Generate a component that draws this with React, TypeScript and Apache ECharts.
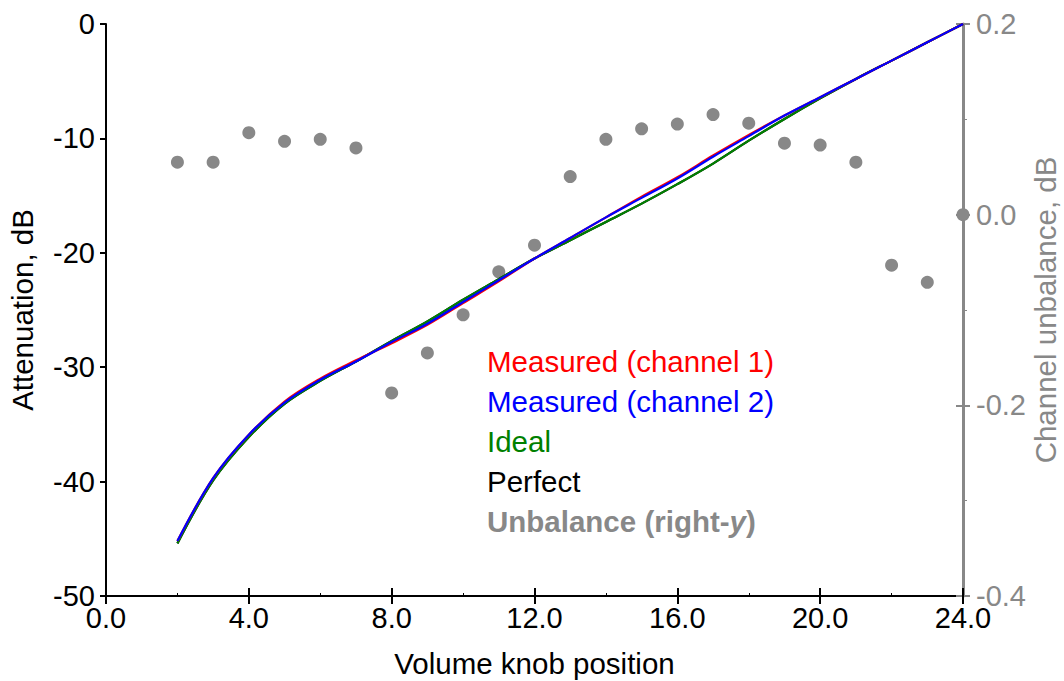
import React, { useEffect, useRef } from "react";
import * as echarts from "echarts";

const knob = [2, 3, 4, 5, 6, 7, 8, 9, 10, 11, 12, 13, 14, 15, 16, 17, 18, 19, 20, 21, 22, 23, 24];
const channel1 = [-45.2, -39.7, -35.9, -33.0, -31.0, -29.4, -27.9, -26.3, -24.4, -22.5, -20.5, -18.7, -16.9, -15.1, -13.4, -11.5, -9.7, -8.0, -6.4, -4.8, -3.2, -1.6, 0];
const channel2 = [-45.2, -39.7, -35.9, -33.1, -31.1, -29.5, -27.8, -26.2, -24.3, -22.4, -20.5, -18.7, -16.9, -15.2, -13.5, -11.6, -9.8, -8.0, -6.4, -4.8, -3.2, -1.6, 0];
const ideal = [-45.4, -39.9, -36.1, -33.2, -31.2, -29.5, -27.7, -26.0, -24.1, -22.3, -20.5, -18.9, -17.3, -15.7, -14.0, -12.2, -10.2, -8.3, -6.5, -4.8, -3.2, -1.6, 0];
const perfect = [-45.4, -39.9, -36.1, -33.2, -31.2, -29.5, -27.7, -26.0, -24.1, -22.3, -20.5, -18.9, -17.3, -15.7, -14.0, -12.2, -10.2, -8.3, -6.5, -4.8, -3.2, -1.6, 0];
const unbalance = [0.055, 0.055, 0.086, 0.077, 0.079, 0.070, -0.187, -0.145, -0.105, -0.060, -0.032, 0.040, 0.079, 0.090, 0.095, 0.105, 0.096, 0.075, 0.073, 0.055, -0.053, -0.071, 0.0];

const legendItems = [
  { label: "Measured (channel 1)", color: "#ff0000" },
  { label: "Measured (channel 2)", color: "#0000ff" },
  { label: "Ideal", color: "#008000" },
  { label: "Perfect", color: "#000000" },
];

const FONT = "'Liberation Sans', Arial, sans-serif";
const FS = 29.5;
const TFS = 29;
const GREY = "#888888";

const pairs = (ys: number[]) => knob.map((x, i) => [x, ys[i]]);

export default function App() {
  const ref = useRef<HTMLDivElement>(null);
  useEffect(() => {
    if (!ref.current) return;
    const chart = echarts.init(ref.current, undefined, { renderer: "svg" });
    const lineSeries = (name: string, ys: number[], color: string) => ({
      name,
      type: "line",
      xAxisIndex: 0,
      yAxisIndex: 0,
      data: pairs(ys),
      smooth: 0.35,
      showSymbol: false,
      lineStyle: { color, width: 2.2 },
      itemStyle: { color },
    });
    const legendGraphics: any[] = legendItems.map((it, i) => ({
      type: "text",
      left: 487,
      top: 363 + i * 40 - 17,
      style: { text: it.label, fill: it.color, font: `${FS}px ${FONT}` },
    }));
    legendGraphics.push({
      type: "text",
      left: 487,
      top: 363 + 4 * 40 - 17,
      style: {
        text: "{a|Unbalance (right-}{b|y}{a|)}",
        rich: {
          a: { fill: GREY, fontSize: FS, fontWeight: "bold", fontFamily: FONT },
          b: { fill: GREY, fontSize: FS, fontWeight: "bold", fontStyle: "italic", fontFamily: FONT },
        },
      },
    });
    chart.setOption({
      animation: false,
      backgroundColor: "#ffffff",
      grid: { left: 106, right: 101, top: 24, bottom: 85, containLabel: false, outerBoundsMode: "none" },
      xAxis: [
        {
          type: "value",
          min: 0,
          max: 24,
          interval: 4,
          position: "bottom",
          name: "Volume knob position",
          nameLocation: "middle",
          nameGap: 52,
          nameMoveOverlap: false,
          nameTextStyle: { color: "#000", fontSize: FS, fontFamily: FONT },
          axisLine: { show: true, onZero: false, lineStyle: { color: "#000", width: 2 } },
          axisTick: { show: true, inside: false, length: 8, lineStyle: { color: "#000", width: 2 } },
          axisLabel: { color: "#000", fontSize: TFS, fontFamily: FONT, margin: 7, formatter: (v: number) => v.toFixed(1) },
          splitLine: { show: false },
        },
        {
          type: "value",
          min: 0,
          max: 24,
          interval: 4,
          position: "bottom",
          axisLine: { show: false, onZero: false },
          axisTick: { show: true, inside: true, length: 8, lineStyle: { color: "#000", width: 2 } },
          minorTick: { show: true, splitNumber: 2, length: 3, lineStyle: { color: "#000", width: 1 } },
          axisLabel: { show: false },
          splitLine: { show: false },
        },
      ],
      yAxis: [
        {
          type: "value",
          min: -50,
          max: 0,
          interval: 10,
          position: "left",
          name: "Attenuation, dB",
          nameLocation: "middle",
          nameGap: 69,
          nameMoveOverlap: false,
          nameTextStyle: { color: "#000", fontSize: FS, fontFamily: FONT },
          axisLine: { show: true, onZero: false, lineStyle: { color: "#000", width: 2 } },
          axisTick: { show: true, inside: false, length: 6, lineStyle: { color: "#000", width: 2 } },
          axisLabel: { color: "#000", fontSize: TFS, fontFamily: FONT, margin: 11 },
          splitLine: { show: false },
        },
        {
          type: "value",
          min: -0.4,
          max: 0.2,
          interval: 0.2,
          position: "right",
          name: "Channel unbalance, dB",
          nameLocation: "middle",
          nameGap: 67,
          nameMoveOverlap: false,
          nameTextStyle: { color: GREY, fontSize: FS, fontFamily: FONT },
          axisLine: { show: true, onZero: false, lineStyle: { color: GREY, width: 3 } },
          axisTick: { show: true, inside: false, length: 7, lineStyle: { color: GREY, width: 2 } },
          minorTick: { show: true, splitNumber: 2, length: 4, lineStyle: { color: GREY, width: 1 } },
          axisLabel: { color: GREY, fontSize: TFS, fontFamily: FONT, margin: 13, formatter: (v: number) => v.toFixed(1) },
          splitLine: { show: false },
        },
        {
          type: "value",
          min: -0.4,
          max: 0.2,
          interval: 0.2,
          position: "right",
          axisLine: { show: false, onZero: false },
          axisTick: { show: true, inside: true, length: 7, lineStyle: { color: GREY, width: 2 } },
          axisLabel: { show: false },
          splitLine: { show: false },
        },
      ],
      series: [
        {
          name: "Unbalance (right-y)",
          type: "scatter",
          xAxisIndex: 0,
          yAxisIndex: 1,
          data: pairs(unbalance),
          symbol: "circle",
          symbolSize: 13,
          itemStyle: { color: GREY, opacity: 1 },
        },
        lineSeries("Perfect", perfect, "#000000"),
        lineSeries("Ideal", ideal, "#008000"),
        lineSeries("Measured (channel 1)", channel1, "#ff0000"),
        lineSeries("Measured (channel 2)", channel2, "#0000ff"),
      ],
      graphic: legendGraphics,
    });
    return () => chart.dispose();
  }, []);
  return (
    <div
      ref={ref}
      style={{ position: "fixed", left: 0, top: 0, width: 1064, height: 681, background: "#fff" }}
    />
  );
}
